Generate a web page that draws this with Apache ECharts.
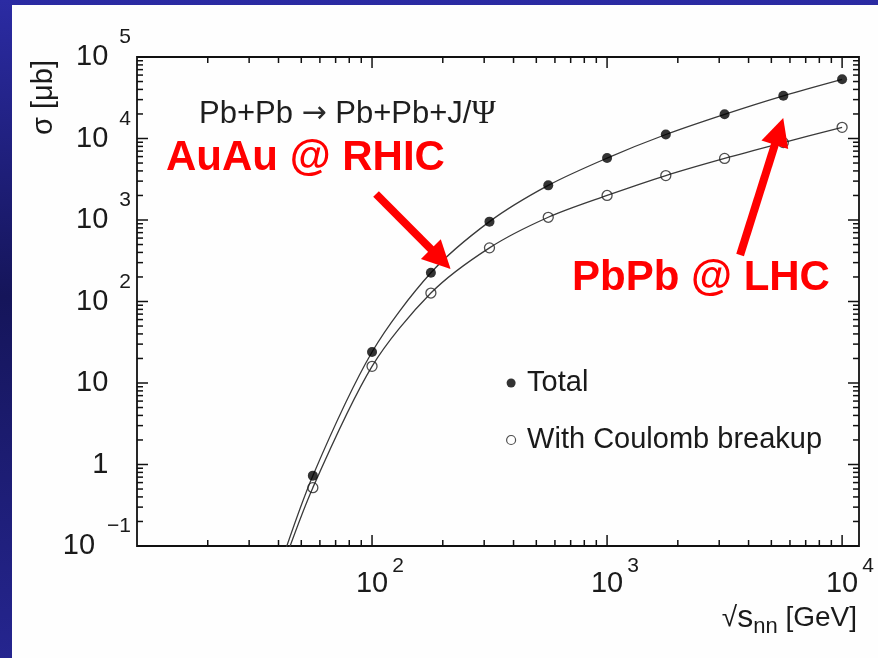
<!DOCTYPE html>
<html>
<head>
<meta charset="utf-8">
<script src="https://cdn.jsdelivr.net/npm/echarts@6/dist/echarts.min.js"></script>
<style>
html,body{margin:0;padding:0;background:#fff;}
#main{width:878px;height:658px;}
</style>
</head>
<body>
<div id="main"></div>
<script>
// ---- data ----
const energies    = [56, 100, 178, 316, 562, 1000, 1778, 3162, 5623, 10000];      // sqrt(s_nn) [GeV]
const totalXsec   = [0.73, 24, 225, 955, 2660, 5750, 11200, 19800, 33400, 53200];  // sigma [mub], Total
const coulombXsec = [0.52, 16, 127, 455, 1080, 2000, 3510, 5700, 8900, 13700];     // sigma [mub], With Coulomb breakup
// the drawn curves continue below the frame
const tailEnergy  = 40;
const tailTotal   = 0.05;
const tailCoulomb = 0.04;

// axis ticks
const xMajorTicks = [100, 1000, 10000];
const yMajorTicks = [0.1, 1, 10, 100, 1000, 10000, 100000];
const minorMultipliers = [2, 3, 4, 5, 6, 7, 8, 9];
const xMinorDecades = [10, 100, 1000];
const yMinorDecades = [0.1, 1, 10, 100, 1000, 10000];

// annotation arrows in data coordinates [start, end]
const rhicArrow = [[104, 2085], [196, 332]];
const lhcArrow  = [[3681, 372], [5390, 12200]];

const FONT = "'Liberation Sans', Arial, Helvetica, sans-serif";
const TXT = '#1a1a1a';

function decadeExp(v) {
  const l = Math.log10(v);
  const e = Math.round(l);
  return Math.abs(l - e) < 1e-6 ? e : null;
}

const totalCurve = [[tailEnergy, tailTotal]].concat(energies.map((e, i) => [e, totalXsec[i]]));
const coulombCurve = [[tailEnergy, tailCoulomb]].concat(energies.map((e, i) => [e, coulombXsec[i]]));
const totalPts = energies.map((e, i) => [e, totalXsec[i]]);
const coulombPts = energies.map((e, i) => [e, coulombXsec[i]]);

const tickData = [];
xMajorTicks.forEach(v => tickData.push([v, 1, 1, 1]));
xMinorDecades.forEach(d => minorMultipliers.forEach(m => tickData.push([d * m, 1, 1, 0])));
yMajorTicks.forEach(v => tickData.push([100, v, 0, 1]));
yMinorDecades.forEach(d => minorMultipliers.forEach(m => tickData.push([100, d * m, 0, 0])));

function renderTicks(params, api) {
  const cs = params.coordSys;
  const isX = api.value(2) === 1;
  const len = api.value(3) === 1 ? 11 : 6;
  const st = () => ({ stroke: '#111', lineWidth: 1.5 });
  if (isX) {
    const p = api.coord([api.value(0), 1])[0];
    const yb = cs.y + cs.height, yt = cs.y;
    return { type: 'group', children: [
      { type: 'line', shape: { x1: p, y1: yb, x2: p, y2: yb - len }, style: st() },
      { type: 'line', shape: { x1: p, y1: yt, x2: p, y2: yt + len }, style: st() }
    ]};
  } else {
    const p = api.coord([100, api.value(1)])[1];
    const xl = cs.x, xr = cs.x + cs.width;
    return { type: 'group', children: [
      { type: 'line', shape: { x1: xl, y1: p, x2: xl + len, y2: p }, style: st() },
      { type: 'line', shape: { x1: xr, y1: p, x2: xr - len, y2: p }, style: st() }
    ]};
  }
}

const chart = echarts.init(document.getElementById('main'), null, { renderer: 'canvas' });

const supStyle = { fontFamily: FONT, fontSize: 21, lineHeight: 34, verticalAlign: 'top', color: TXT, padding: [0, 0, 0, 11] };

chart.setOption({
  animation: false,
  backgroundColor: '#ffffff',
  title: {
    text: 'Pb+Pb {a|→} Pb+Pb+J/{g|Ψ}',
    left: 199, top: 97, padding: 0,
    textStyle: {
      fontFamily: FONT, fontSize: 31, fontWeight: 'normal', color: '#1e1e1e', lineHeight: 34,
      rich: {
        a: { fontFamily: "'DejaVu Sans', sans-serif", fontSize: 30, lineHeight: 34, color: '#2a2a2a', fontWeight: 'normal' },
        g: { fontFamily: "'Liberation Serif', 'DejaVu Serif', serif", fontSize: 33, lineHeight: 34, color: '#1e1e1e' }
      }
    }
  },
  grid: {
    left: 137, right: 19, top: 57, bottom: 112,
    show: true, borderColor: '#111', borderWidth: 1.8, backgroundColor: 'transparent',
    containLabel: false, outerBoundsMode: 'none'
  },
  legend: {
    orient: 'vertical', left: 506, top: 366, padding: 0, itemGap: 23,
    itemWidth: 22, itemHeight: 9, selectedMode: false,
    textStyle: { fontFamily: FONT, fontSize: 29, lineHeight: 34, color: TXT },
    data: [
      { name: 'Total', icon: 'circle', itemStyle: { color: '#000', borderWidth: 0 } },
      { name: 'With Coulomb breakup', icon: 'circle', itemStyle: { color: '#fff', borderColor: '#222', borderWidth: 1.2 } }
    ]
  },
  xAxis: {
    type: 'log', logBase: 10, min: 10, max: 11800,
    axisLine: { show: false }, axisTick: { show: false },
    splitLine: { show: false }, minorTick: { show: false }, minorSplitLine: { show: false },
    axisLabel: {
      margin: 10, fontFamily: FONT, fontSize: 29, color: TXT,
      formatter: v => { const e = decadeExp(v); return (e !== null && e >= 2) ? `{pad|${e}}{b|10}{sup|${e}}` : ''; },
      rich: {
        b: { fontFamily: FONT, fontSize: 29, lineHeight: 56, verticalAlign: 'middle', color: TXT },
        sup: { fontFamily: FONT, fontSize: 21, lineHeight: 20, verticalAlign: 'top', color: TXT, padding: [0, 0, 0, 4] },
        pad: { fontFamily: FONT, fontSize: 21, lineHeight: 20, verticalAlign: 'top', color: 'rgba(0,0,0,0)', padding: [0, 4, 0, 0] }
      }
    },
    name: '{r|√}{s|s}{n|nn}{r| [GeV]}',
    nameLocation: 'end', nameGap: -2,
    nameTextStyle: {
      align: 'right', verticalAlign: 'top', padding: [52, 0, 0, 0],
      fontFamily: FONT, fontSize: 28, color: TXT,
      rich: {
        r: { fontFamily: FONT, fontSize: 28, lineHeight: 40, verticalAlign: 'middle', color: TXT },
        s: { fontFamily: FONT, fontSize: 32, lineHeight: 40, verticalAlign: 'middle', color: TXT },
        n: { fontFamily: FONT, fontSize: 22, lineHeight: 16, verticalAlign: 'bottom', color: TXT }
      }
    }
  },
  yAxis: {
    type: 'log', logBase: 10, min: 0.1, max: 100000,
    axisLine: { show: false }, axisTick: { show: false },
    splitLine: { show: false }, minorTick: { show: false }, minorSplitLine: { show: false },
    axisLabel: {
      margin: 6, fontFamily: FONT, fontSize: 29, color: TXT,
      formatter: v => {
        const e = decadeExp(v);
        if (e === null) return '';
        if (e >= 2) return `{b|10}{sup|${e}}`;
        if (e === 1) return '{b|10}{sp|0}';
        if (e === 0) return '{b|1}{sp|0}';
        return `{b|10}{supn|−${-e}}`;
      },
      rich: {
        b: { fontFamily: FONT, fontSize: 29, lineHeight: 60, verticalAlign: 'middle', color: TXT },
        sup: supStyle,
        sp: Object.assign({}, supStyle, { color: 'rgba(0,0,0,0)' }),
        supn: { fontFamily: FONT, fontSize: 21, lineHeight: 8, verticalAlign: 'top', color: TXT, padding: [0, 0, 0, 12] }
      }
    }
  },
  graphic: [
    { type: 'rect', z: -200, silent: true, shape: { x: 0, y: 0, width: 878, height: 658 },
      style: { fill: { type: 'linear', x: 0, y: 0, x2: 0, y2: 1, colorStops: [
        { offset: 0, color: '#2b2ba3' }, { offset: 0.45, color: '#15155a' }, { offset: 1, color: '#25258f' } ] } } },
    { type: 'rect', z: -100, silent: true, shape: { x: 12, y: 5, width: 866, height: 653 }, style: { fill: '#fefefe' } },
    { type: 'text', x: 43.5, y: 97.5, rotation: Math.PI / 2, silent: true,
      style: { text: 'σ [μb]', font: `29px ${FONT}`, fill: TXT, align: 'center', verticalAlign: 'middle', textAlign: 'center', textVerticalAlign: 'middle' } },
    { type: 'text', x: 166, y: 158, silent: true, z: 10,
      style: { text: 'AuAu @ RHIC', font: `bold 42px ${FONT}`, fill: '#ff0000', align: 'left', verticalAlign: 'middle', textAlign: 'left', textVerticalAlign: 'middle' } },
    { type: 'text', x: 572, y: 278, silent: true, z: 10,
      style: { text: 'PbPb @ LHC', font: `bold 42px ${FONT}`, fill: '#ff0000', align: 'left', verticalAlign: 'middle', textAlign: 'left', textVerticalAlign: 'middle' } }
  ],
  series: [
    {
      name: 'Total curve', type: 'line', data: totalCurve, smooth: 0.3, showSymbol: false, symbol: 'none',
      lineStyle: { color: '#3a3a3a', width: 1.3 }, clip: true, z: 3, silent: true,
      markLine: {
        silent: true, symbol: ['none', 'triangle'], symbolSize: 28, animation: false,
        label: { show: false }, emphasis: { disabled: true },
        lineStyle: { color: '#ff0000', width: 8, type: 'solid' },
        itemStyle: { color: '#ff0000' },
        data: [
          [{ coord: rhicArrow[0] }, { coord: rhicArrow[1] }],
          [{ coord: lhcArrow[0] }, { coord: lhcArrow[1] }]
        ]
      }
    },
    {
      name: 'Coulomb curve', type: 'line', data: coulombCurve, smooth: 0.3, showSymbol: false, symbol: 'none',
      lineStyle: { color: '#3a3a3a', width: 1.3 }, clip: true, z: 3, silent: true
    },
    {
      name: 'Total', type: 'scatter', data: totalPts, symbol: 'circle', symbolSize: 10,
      itemStyle: { color: '#000' }, z: 4, silent: true
    },
    {
      name: 'With Coulomb breakup', type: 'scatter', data: coulombPts, symbol: 'circle', symbolSize: 10,
      itemStyle: { color: 'rgba(255,255,255,0)', borderColor: '#222', borderWidth: 1.3 }, z: 4, silent: true
    },
    {
      name: 'ticks', type: 'custom', data: tickData, renderItem: renderTicks,
      encode: { x: 0, y: 1 }, z: 5, silent: true, clip: false
    }
  ]
});
</script>
</body>
</html>
